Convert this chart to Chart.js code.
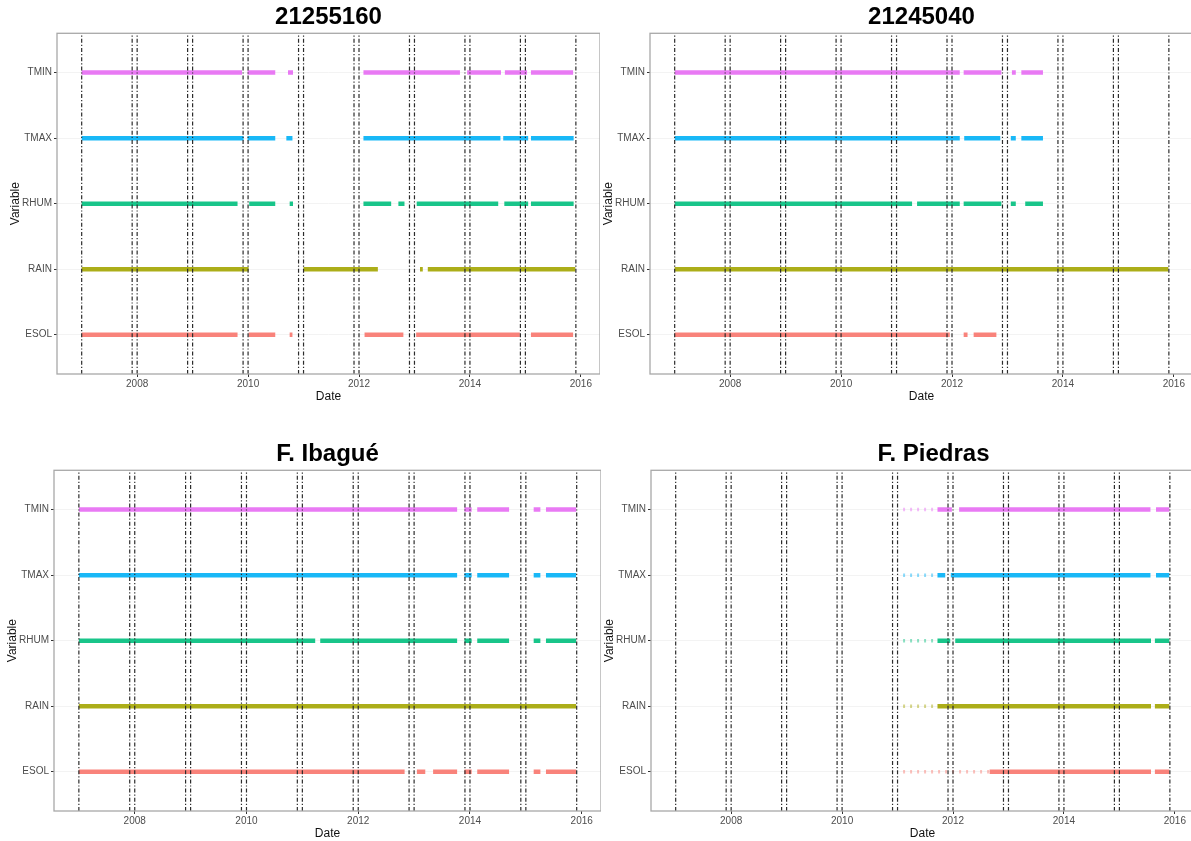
<!DOCTYPE html>
<html>
<head>
<meta charset="utf-8">
<script src="https://cdn.jsdelivr.net/npm/chart.js@4/dist/chart.umd.min.js"></script>
<style>
  html, body { margin: 0; padding: 0; background: #fff; width: 1191px; height: 841px; overflow: hidden; }
  canvas { position: absolute; }
</style>
</head>
<body>
<canvas id="c1" width="600" height="420" style="left:0px;top:0px"></canvas>
<canvas id="c2" width="600" height="420" style="left:593px;top:0px"></canvas>
<canvas id="c3" width="604" height="420" style="left:-3.5px;top:437px"></canvas>
<canvas id="c4" width="600" height="420" style="left:594px;top:437px"></canvas>
<script>
// variables on the y axis, bottom to top
const variables = ['ESOL', 'RAIN', 'RHUM', 'TMAX', 'TMIN'];
const colors = ['#F8766D', '#A3A500', '#00BF7D', '#00B0F6', '#E76BF3'];
const xTicks = [2008, 2010, 2012, 2014, 2016];
// dashed reference lines (decimal years)
const yearMarks = [2007.0, 2007.91, 2008.0, 2008.91, 2009.0, 2009.91, 2010.0, 2010.91, 2011.0,
                   2011.91, 2012.0, 2012.91, 2013.0, 2013.91, 2014.0, 2014.91, 2015.0, 2015.91];

// data coverage per station: [start, end] in decimal years
const cov21255160 = {
  ESOL: [[2007.0, 2009.81], [2010.01, 2010.49], [2010.75, 2010.8], [2012.1, 2012.8], [2013.03, 2014.9], [2015.1, 2015.86]],
  RAIN: [[2007.0, 2010.01], [2011.0, 2012.34], [2013.1, 2013.15], [2013.24, 2015.9]],
  RHUM: [[2007.0, 2009.81], [2010.02, 2010.49], [2010.75, 2010.81], [2012.08, 2012.58], [2012.71, 2012.82], [2013.04, 2014.51], [2014.62, 2015.05], [2015.1, 2015.87]],
  TMAX: [[2007.0, 2009.92], [2009.99, 2010.49], [2010.69, 2010.8], [2012.08, 2014.55], [2014.6, 2015.05], [2015.1, 2015.87]],
  TMIN: [[2007.0, 2009.89], [2009.99, 2010.49], [2010.72, 2010.81], [2012.08, 2013.82], [2013.95, 2014.56], [2014.63, 2015.03], [2015.1, 2015.86]]
};
const cov21245040 = {
  ESOL: [[2007.0, 2011.96], [2012.21, 2012.28], [2012.39, 2012.8]],
  RAIN: [[2007.0, 2015.9]],
  RHUM: [[2007.0, 2011.28], [2011.37, 2012.14], [2012.21, 2012.89], [2013.06, 2013.15], [2013.32, 2013.64]],
  TMAX: [[2007.0, 2012.14], [2012.22, 2012.87], [2013.06, 2013.15], [2013.25, 2013.64]],
  TMIN: [[2007.0, 2012.14], [2012.21, 2012.89], [2013.08, 2013.15], [2013.25, 2013.64]]
};
const covIbague = {
  ESOL: [[2007.0, 2012.83], [2013.05, 2013.2], [2013.34, 2013.77], [2013.9, 2014.03], [2014.13, 2014.7], [2015.14, 2015.26], [2015.36, 2015.9]],
  RAIN: [[2007.0, 2015.9]],
  RHUM: [[2007.0, 2011.23], [2011.32, 2013.77], [2013.9, 2014.03], [2014.13, 2014.7], [2015.14, 2015.26], [2015.36, 2015.9]],
  TMAX: [[2007.0, 2013.77], [2013.9, 2014.03], [2014.13, 2014.7], [2015.14, 2015.26], [2015.36, 2015.9]],
  TMIN: [[2007.0, 2013.77], [2013.9, 2014.03], [2014.13, 2014.7], [2015.14, 2015.26], [2015.36, 2015.9]]
};
const covPiedras = {
  ESOL: [[2012.66, 2015.57], [2015.64, 2015.9]],
  RAIN: [[2011.72, 2015.57], [2015.64, 2015.9]],
  RHUM: [[2011.72, 2011.95], [2012.04, 2015.57], [2015.64, 2015.9]],
  TMAX: [[2011.72, 2011.86], [2011.96, 2015.56], [2015.66, 2015.9]],
  TMIN: [[2011.72, 2011.98], [2012.11, 2015.56], [2015.66, 2015.9]]
};
// scattered, sparse records
const sparsePiedras = {
  ESOL: [[2011.1, 2012.66]],
  RAIN: [[2011.1, 2011.72]],
  RHUM: [[2011.1, 2011.72]],
  TMAX: [[2011.1, 2011.72]],
  TMIN: [[2011.1, 2011.72]]
};

Chart.defaults.font.family = '"Liberation Sans", Arial, sans-serif';

function hexA(hex, a) {
  const n = parseInt(hex.slice(1), 16);
  return 'rgba(' + (n >> 16) + ',' + ((n >> 8) & 255) + ',' + (n & 255) + ',' + a + ')';
}

function intervalsToPoints(list, y) {
  const pts = [];
  list.forEach(function (iv) {
    pts.push({x: iv[0], y: y}, {x: iv[1], y: y}, {x: iv[1], y: null});
  });
  return pts;
}

const panelDecor = {
  id: 'panelDecor',
  afterDraw(chart, args, opts) {
    const ctx = chart.ctx, a = chart.chartArea;
    ctx.save();
    ctx.strokeStyle = '#a8a8a8';
    ctx.lineWidth = 1.3;
    ctx.strokeRect(a.left, a.top, a.right - a.left, a.bottom - a.top);
    ctx.font = 'bold 24px "Liberation Sans", Arial, sans-serif';
    ctx.fillStyle = '#000';
    ctx.textAlign = 'center';
    ctx.textBaseline = 'middle';
    ctx.fillText(opts.text, (a.left + a.right) / 2 + (opts.shift || 0), 17.5);
    ctx.restore();
  }
};

function drawPanel(id, title, cov, sparse, shift) {
  const datasets = [];
  const marks = [];
  yearMarks.forEach(function (m) {
    marks.push({x: m, y: 0.4}, {x: m, y: 5.6}, {x: m, y: null});
  });
  datasets.push({
    data: marks, borderColor: '#2b2b2b', borderWidth: 1.2,
    borderDash: [4, 2, 1.2, 2], order: 0
  });
  variables.forEach(function (v, i) {
    datasets.push({
      data: intervalsToPoints(cov[v], i + 1),
      borderColor: hexA(colors[i], 0.9), borderWidth: 4.5,
      borderCapStyle: 'butt', order: 2
    });
    if (sparse && sparse[v]) {
      datasets.push({
        data: intervalsToPoints(sparse[v], i + 1),
        borderColor: hexA(colors[i], 0.45), borderWidth: 3.5,
        borderDash: [2, 5], borderCapStyle: 'butt', order: 3
      });
    }
  });

  new Chart(document.getElementById(id), {
    type: 'line',
    data: {datasets: datasets},
    options: {
      responsive: false,
      animation: false,
      events: [],
      spanGaps: false,
      elements: {point: {radius: 0}, line: {tension: 0}},
      layout: {padding: {top: 33.3, bottom: 16, left: 0, right: 0}},
      plugins: {legend: {display: false}, tooltip: {enabled: false}, panelDecor: {text: title, shift: shift}},
      scales: {
        x: {
          type: 'linear', min: 2006.555, max: 2016.345,
          afterBuildTicks: function (s) { s.ticks = xTicks.map(function (v) { return {value: v}; }); },
          afterFit: function (s) { s.height = 30; },
          grid: {drawOnChartArea: false, tickLength: 3, tickColor: '#333', tickWidth: 1},
          border: {display: false},
          ticks: {padding: 1, color: '#4d4d4d', font: {size: 10}, maxRotation: 0,
                  callback: function (v) { return String(v); }},
          title: {display: true, text: 'Date', color: '#111', font: {size: 12}, padding: {top: 0, bottom: 0}}
        },
        y: {
          type: 'linear', min: 0.4, max: 5.6,
          afterBuildTicks: function (s) { s.ticks = [1, 2, 3, 4, 5].map(function (v) { return {value: v}; }); },
          afterFit: function (s) { s.width = 57; },
          grid: {color: '#f3f3f3', tickLength: 3, tickColor: '#333', tickWidth: 1},
          border: {display: false},
          ticks: {padding: 2, color: '#4d4d4d', font: {size: 10},
                  callback: function (v) { return variables[v - 1]; }},
          title: {display: true, text: 'Variable', color: '#111', font: {size: 12}, padding: {top: 8, bottom: 0}}
        }
      }
    },
    plugins: [panelDecor]
  });
}

drawPanel('c1', '21255160', cov21255160, null, 0);
drawPanel('c2', '21245040', cov21245040, null, 0);
drawPanel('c3', 'F. Ibagué', covIbague, null, 0);
drawPanel('c4', 'F. Piedras', covPiedras, sparsePiedras, 11);
</script>
</body>
</html>
